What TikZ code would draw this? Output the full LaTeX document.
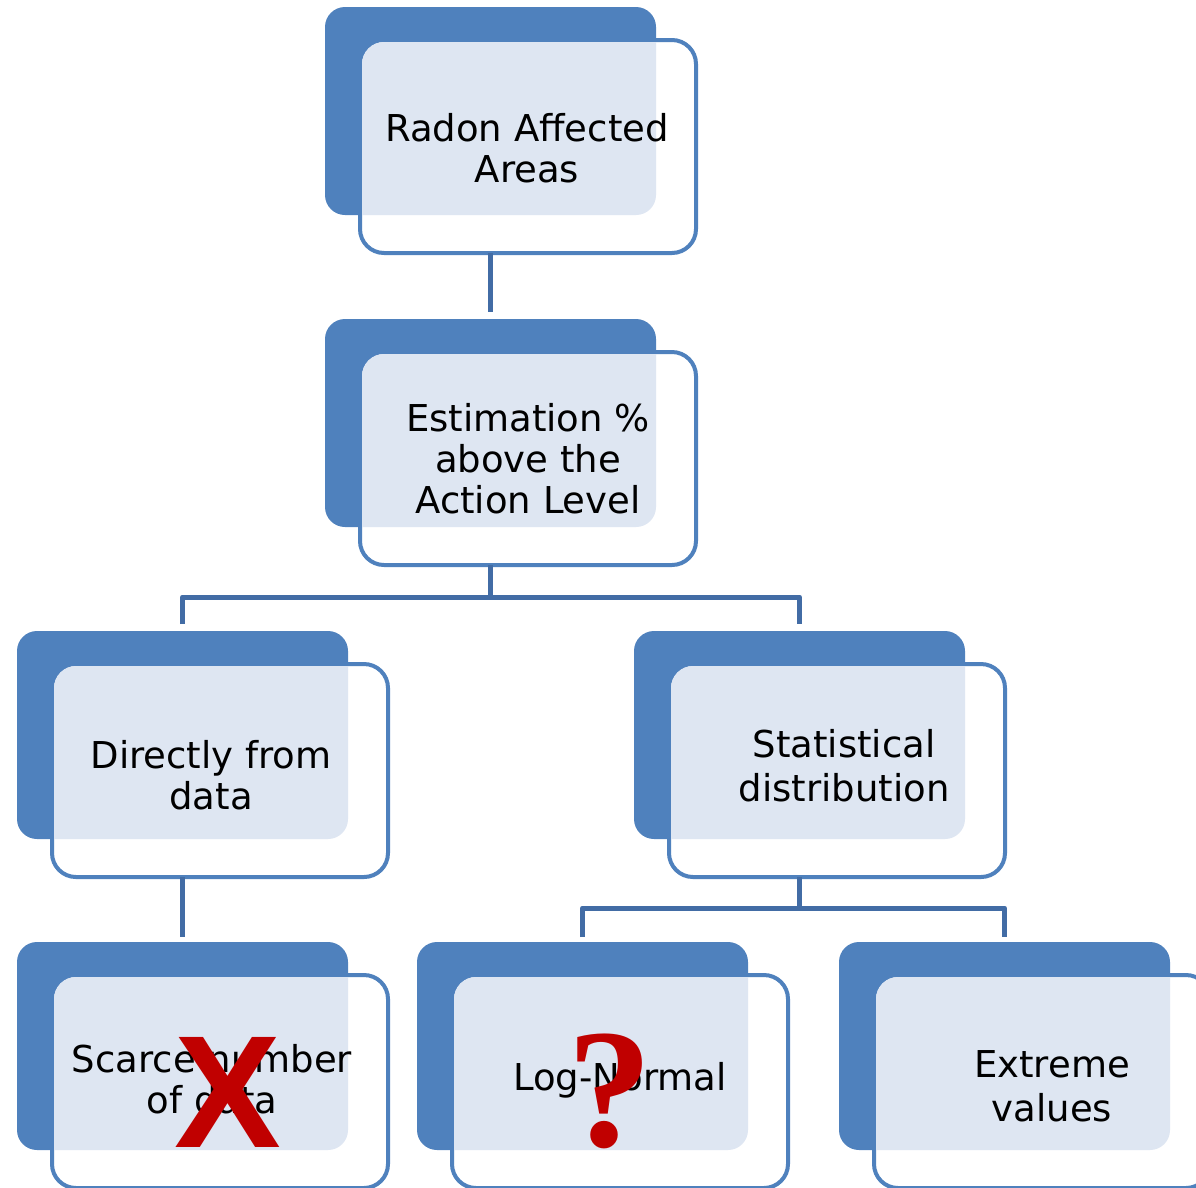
\documentclass[tikz,border=0pt]{standalone}
\usepackage{fontspec}
\setmainfont{DejaVu Sans}
\newfontfamily\marksans{Liberation Sans}
\newfontfamily\markserif{Liberation Serif}
\definecolor{boxblue}{RGB}{79,129,189}
\definecolor{linkblue}{RGB}{66,108,165}
\definecolor{dotfill}{RGB}{222,230,242}
\definecolor{markred}{RGB}{192,0,0}
\tikzset{
  backbox/.style={rectangle, fill=boxblue, rounded corners=20pt, minimum width=331pt, minimum height=208pt, inner sep=0pt, outer sep=0pt, anchor=north west},
  frontbox/.style={rectangle, draw=boxblue, fill=white, line width=4pt, rounded corners=24pt, minimum width=336pt, minimum height=213pt, inner sep=0pt, outer sep=0pt, anchor=north west},
  conn/.style={draw=linkblue, line width=5pt, line join=round},
  label/.style={align=center, inner sep=0pt, font=\fontsize{37}{41}\selectfont},
  redsign/.style={inner sep=0pt, text=markred},
}
\newcommand{\overlapfill}[2]{%
  \begin{scope}
    \clip[rounded corners=20pt] (#1.north west) rectangle (#1.south east);
    \fill[dotfill, rounded corners=22pt] ([shift={(2pt,-2pt)}]#2.north west) rectangle ([shift={(-2pt,2pt)}]#2.south east);
  \end{scope}}
\begin{document}
\begin{tikzpicture}[x=1pt,y=-1pt]
\useasboundingbox (0,0) rectangle (1196,1187);
% units
\node[backbox] (b1) at (325,7) {};
\node[frontbox] (f1) at (360,40) {};
\overlapfill{b1}{f1}
\node[backbox] (b2) at (325,319) {};
\node[frontbox] (f2) at (360,352) {};
\overlapfill{b2}{f2}
\node[backbox] (b3) at (17,631) {};
\node[frontbox] (f3) at (52,664) {};
\overlapfill{b3}{f3}
\node[backbox] (b4) at (634,631) {};
\node[frontbox] (f4) at (669,664) {};
\overlapfill{b4}{f4}
\node[backbox] (b5) at (17,942) {};
\node[frontbox] (f5) at (52,975) {};
\overlapfill{b5}{f5}
\node[backbox] (b6) at (417,942) {};
\node[frontbox] (f6) at (452,975) {};
\overlapfill{b6}{f6}
\node[backbox] (b7) at (839,942) {};
\node[frontbox] (f7) at (874,975) {};
\overlapfill{b7}{f7}
% connectors
\coordinate (j2) at (490,597);
\coordinate (j4) at (798,908);
\draw[conn] (b1.center |- f1.south) -- ([yshift=7pt]b2.north);
\draw[conn] (b2.center |- f2.south) -- (b2.center |- j2);
\draw[conn] ([yshift=7pt]b3.north) |- (j2) -| ([yshift=7pt]b4.north);
\draw[conn] (b3.center |- f3.south) -- ([yshift=5pt]b5.north);
\draw[conn] (b4.center |- f4.south) -- (b4.center |- j4);
\draw[conn] ([yshift=5pt]b6.north) |- (j4) -| ([yshift=5pt]b7.north);
% texts
\node[label] (t1) at (527,148) {Radon Affected\\Areas};
\node[label] (t2) at (528,459) {Estimation \%\\above the\\Action Level};
\node[label] (t3) at (211,775) {Directly from\\data};
\node[label, font=\fontsize{37}{44}\selectfont] (t4) at (844,766) {Statistical\\distribution};
\node[label] (t5) at (212,1079) {Scarce number\\of data};
\node[label] (t6) at (620,1080) {Log-Normal};
\node[label, font=\fontsize{37}{44}\selectfont] (t7) at (1052,1086) {Extreme\\values};
% red signs
\node[redsign, font=\marksans\bfseries\fontsize{160}{160}\selectfont] (m5) at (228,1092) {X};
\node[redsign, font=\markserif\bfseries\fontsize{170}{170}\selectfont] (m6) at (610,1091) {?};
\end{tikzpicture}
\end{document}
